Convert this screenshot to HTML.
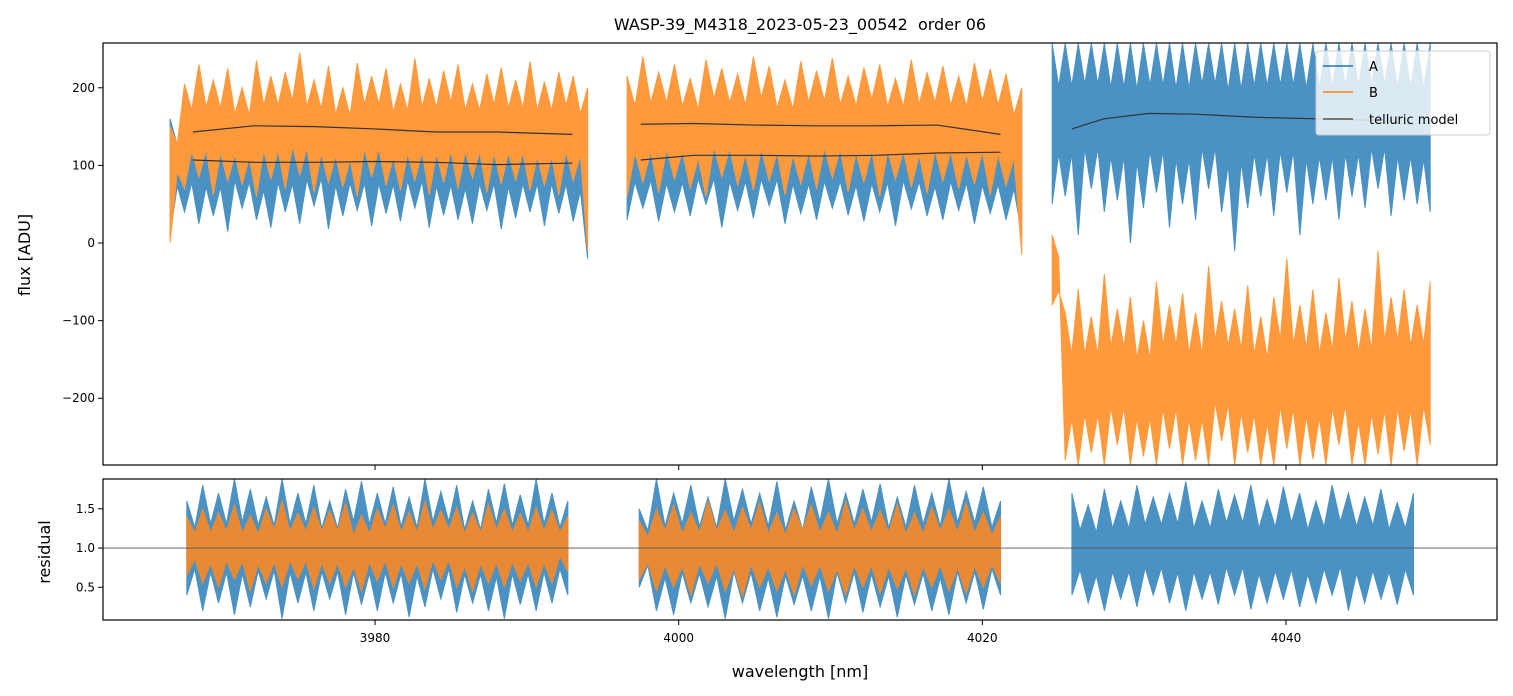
<!DOCTYPE html>
<html><head><meta charset="utf-8">
<style>
body{margin:0;background:#fff;font-family:"Liberation Sans","DejaVu Sans",sans-serif;}
svg text{font-family:"DejaVu Sans","Liberation Sans",sans-serif;}
</style></head>
<body>
<svg id="chart" width="1513" height="696" viewBox="0 0 1513 696" xmlns="http://www.w3.org/2000/svg" style="position:absolute;left:0;top:0">
<rect width="1513" height="696" fill="#fff"/>
<text x="800" y="30" font-size="16" text-anchor="middle" fill="#000">WASP-39_M4318_2023-05-23_00542&#160; order 06</text>
<g id="topg"></g>
<g id="botg"></g>
</svg>
<script>
// ---- data ----
const xTicks = [3980, 4000, 4020, 4040];
const yTopTicks = [200, 100, 0, -100, -200];
const yBotTicks = [1.5, 1.0, 0.5];
const topSegStart = [3966.5, 3996.6, 4024.6];
const topSegEnd = [3994.0, 4022.6, 4049.5];
const resSegStart = [3967.6, 3997.4, 4025.9];
const resSegEnd = [3992.7, 4021.2, 4048.4];
const aHi = [
 [160,175,182,168,190,172,165,185,178,170,188,175,182,168,176,190,172,180,170,186,174,182,165,178,188,170,176,184,172,168],
 [165,180,172,188,175,168,184,176,190,170,182,174,186,168,178,172,188,176,180,170,184,175,168,186,172,178],
 [257,257,257,257,257,257,257,257,257,257,257,257,257,257,257,257,257,257,257,257,257,257,257,257,257,257,257,257,257,257]
];
const aLo = [
 [10,40,25,35,15,45,30,20,40,25,48,18,35,42,22,38,28,45,20,36,30,25,42,18,32,40,22,38,28,-20],
 [30,45,28,40,35,50,20,42,32,48,25,38,30,45,36,28,40,22,44,35,30,42,25,38,30,10],
 [50,60,10,70,40,55,0,45,65,20,50,30,70,40,-10,45,60,35,65,10,50,55,30,60,45,70,35,55,50,40]
];
const bHi = [
 [150,205,230,210,225,200,235,215,220,245,210,228,200,232,215,225,205,238,212,222,230,205,218,226,210,234,208,220,215,200],
 [215,240,220,230,212,236,225,218,240,228,210,234,222,238,215,226,230,212,236,220,228,215,232,224,218,200],
 [-80,-90,-60,-95,-40,-85,-70,-100,-50,-80,-65,-90,-30,-75,-85,-55,-95,-70,-20,-80,-60,-90,-45,-75,-85,-10,-70,-60,-80,-50]
];
const bLo = [
 [0,70,85,62,80,75,60,82,70,88,65,78,72,60,85,74,68,80,62,78,70,84,65,76,80,68,74,62,80,-10],
 [60,78,65,82,70,60,85,74,68,80,62,76,70,84,66,78,60,82,72,64,80,70,76,62,74,-15],
 [10,-280,-286,-270,-286,-260,-286,-275,-286,-265,-286,-280,-286,-255,-286,-270,-286,-286,-265,-286,-278,-286,-260,-286,-286,-272,-286,-268,-286,-260]
];
const modelX = [
 [3968,3972,3976,3980,3984,3988,3993],
 [3997.5,4001,4005,4009,4013,4017,4021.2],
 [4025.9,4028,4031,4034,4038,4042,4046,4048.4]
];
const modelA = [
 [107,104,104,105,104,101,103],
 [107,113,113,112,113,116,117],
 [147,160,167,166,162,160,158,152]
];
const modelB = [
 [143,151,150,147,143,143,140],
 [153,154,152,151,151,152,140],
 [null,null,null,null,null,null,null,null]
];
const rAHi = [
 [1.6,1.8,1.7,1.88,1.75,1.65,1.88,1.7,1.8,1.6,1.75,1.85,1.7,1.78,1.65,1.88,1.72,1.8,1.6,1.75,1.82,1.68,1.88,1.7,1.6],
 [1.5,1.88,1.7,1.8,1.65,1.88,1.75,1.7,1.85,1.6,1.78,1.88,1.7,1.75,1.82,1.65,1.8,1.7,1.88,1.72,1.78,1.6],
 [1.7,1.55,1.75,1.6,1.8,1.65,1.7,1.85,1.6,1.75,1.68,1.8,1.62,1.78,1.7,1.6,1.8,1.7,1.65,1.75,1.58,1.7]
];
const rALo = [
 [0.4,0.2,0.3,0.15,0.25,0.35,0.1,0.3,0.2,0.35,0.15,0.28,0.2,0.3,0.12,0.25,0.35,0.18,0.3,0.2,0.1,0.28,0.2,0.3,0.4],
 [0.5,0.2,0.15,0.3,0.25,0.1,0.3,0.2,0.12,0.28,0.2,0.1,0.3,0.18,0.25,0.12,0.28,0.2,0.15,0.3,0.22,0.4],
 [0.4,0.3,0.2,0.35,0.25,0.4,0.3,0.2,0.35,0.28,0.4,0.22,0.3,0.35,0.25,0.3,0.4,0.2,0.3,0.35,0.28,0.4]
];
const rBHi = [
 [1.4,1.5,1.45,1.55,1.42,1.5,1.6,1.45,1.52,1.48,1.58,1.42,1.5,1.55,1.46,1.6,1.48,1.52,1.45,1.56,1.5,1.44,1.52,1.48,1.4],
 [1.35,1.5,1.55,1.45,1.6,1.48,1.52,1.58,1.45,1.5,1.55,1.46,1.6,1.5,1.48,1.56,1.45,1.52,1.5,1.58,1.46,1.4],
 []
];
const rBLo = [
 [0.65,0.55,0.5,0.6,0.45,0.55,0.5,0.6,0.48,0.55,0.5,0.45,0.58,0.5,0.55,0.48,0.6,0.5,0.45,0.55,0.5,0.58,0.5,0.55,0.7],
 [0.6,0.45,0.5,0.4,0.55,0.45,0.38,0.5,0.45,0.4,0.52,0.45,0.4,0.5,0.42,0.48,0.4,0.5,0.45,0.42,0.5,0.55],
 []
];

// ---- axes ----
const L=103,R=1497, T1=43,B1=465, T2=479,B2=620;
const xMin=3962.08,xMax=4053.9;
const X=v=>L+(v-xMin)/(xMax-xMin)*(R-L);
const Y1=v=>T1+(257.7-v)/(257.7+286)*(B1-T1);
const Y2=v=>T2+(1.88-v)/(1.88-0.083)*(B2-T2);
const NS="http://www.w3.org/2000/svg";
function mk(tag,attrs,parent){const e=document.createElementNS(NS,tag);for(const k in attrs)e.setAttribute(k,attrs[k]);parent.appendChild(e);return e;}
const gTopRoot=document.getElementById('topg'), gBotRoot=document.getElementById('botg');
const chartSvg=document.getElementById('chart');
const defs=mk('defs',{},chartSvg);
function clip(id,y0,y1){const d=mk('clipPath',{id:id},defs);mk('rect',{x:L,y:y0,width:R-L,height:y1-y0},d);}
clip('c1',T1,B1);clip('c2',T2,B2);
const gTop=mk('g',{'clip-path':'url(#c1)'},gTopRoot);
const gBot=mk('g',{'clip-path':'url(#c2)'},gBotRoot);
const NOTCH=0.28;
function band(g,s,e,hi,lo,Y,color,name){
  if(!hi.length)return;
  const n=hi.length;let pts=[];
  for(let i=0;i<n;i++){const x=X(s+(e-s)*i/(n-1));pts.push(x+','+Y(hi[i]));if(i<n-1){const xm=X(s+(e-s)*(i+0.5)/(n-1));const h=Math.min(hi[i],hi[i+1]),l=Math.max(lo[i],lo[i+1]);pts.push(xm+','+Y(h-(h-l)*NOTCH));}}
  for(let i=n-1;i>=0;i--){const x=X(s+(e-s)*i/(n-1));pts.push(x+','+Y(lo[i]));if(i>0){const xm=X(s+(e-s)*(i-0.5)/(n-1));const h=Math.min(hi[i],hi[i-1]),l=Math.max(lo[i],lo[i-1]);pts.push(xm+','+Y(l+(h-l)*NOTCH));}}
  const p=mk('polygon',{points:pts.join(' '),fill:color,stroke:color,'stroke-width':1},g);
  
  
}
function line(g,xs,ys,Y,name,w,col){
  const pts=[];xs.forEach((x,i)=>{if(ys[i]!==null)pts.push(X(x)+','+Y(ys[i]));});
  if(pts.length<2)return;
  const p=mk('polyline',{points:pts.join(' '),fill:'none',stroke:col,'stroke-width':w},g);
  
  
}
for(let s=0;s<3;s++){
  band(gTop,topSegStart[s],topSegEnd[s],aHi[s],aLo[s],Y1,'#4a91c4','flux-a-segment');
  band(gTop,topSegStart[s],topSegEnd[s],bHi[s],bLo[s],Y1,'#ff9a3c','flux-b-segment');
}
for(let s=0;s<3;s++){
  line(gTop,modelX[s],modelA[s],Y1,'telluric-model-a',1.2,'#333');
  line(gTop,modelX[s],modelB[s],Y1,'telluric-model-b',1.2,'#333');
}
for(let s=0;s<3;s++){
  band(gBot,resSegStart[s],resSegEnd[s],rAHi[s],rALo[s],Y2,'#4a91c4','residual-a-segment');
  band(gBot,resSegStart[s],resSegEnd[s],rBHi[s],rBLo[s],Y2,'#e88a35','residual-b-segment');
}
const ref=mk('line',{x1:L,x2:R,y1:Y2(1),y2:Y2(1),stroke:'#555','stroke-width':0.8},gBot);



[[T1,B1,gTopRoot],[T2,B2,gBotRoot]].forEach(([a,b,g])=>{
  const f=mk('rect',{x:L,y:a,width:R-L,height:b-a,fill:'none',stroke:'#000','stroke-width':1.2},g);
  
  
});
xTicks.forEach(v=>{
  mk('line',{x1:X(v),x2:X(v),y1:B1,y2:B1+5,stroke:'#000'},gTopRoot);
  mk('line',{x1:X(v),x2:X(v),y1:B2,y2:B2+5,stroke:'#000'},gBotRoot);
  const t=mk('text',{x:X(v),y:B2+22,'font-size':12,'text-anchor':'middle'},gBotRoot);
  t.textContent=v;
  
  
});
yTopTicks.forEach(v=>{
  mk('line',{x1:L-5,x2:L,y1:Y1(v),y2:Y1(v),stroke:'#000'},gTopRoot);
  const t=mk('text',{x:L-8,y:Y1(v)+4,'font-size':12,'text-anchor':'end'},gTopRoot);
  t.textContent=v<0?'\u2212'+(-v):v;
  
  
});
yBotTicks.forEach(v=>{
  mk('line',{x1:L-5,x2:L,y1:Y2(v),y2:Y2(v),stroke:'#000'},gBotRoot);
  const t=mk('text',{x:L-8,y:Y2(v)+4,'font-size':12,'text-anchor':'end'},gBotRoot);
  t.textContent=v.toFixed(1);
  
  
});
</script>
<svg style="position:absolute;left:0;top:0" width="1513" height="696">
<text x="800" y="677" font-size="16" text-anchor="middle">wavelength [nm]</text>
<text x="30" y="255" font-size="16" text-anchor="middle" transform="rotate(-90 30 255)">flux [ADU]</text>
<text x="50" y="552" font-size="16" text-anchor="middle" transform="rotate(-90 50 552)">residual</text>
<g>
<rect x="1316" y="51" width="174" height="84" rx="3" fill="#fff" fill-opacity="0.8" stroke="#ccc"/>
<line x1="1323" x2="1353" y1="66" y2="66" stroke="#1f77b4" stroke-width="1.5"/>
<text x="1369" y="71" font-size="13">A</text>
<line x1="1323" x2="1353" y1="92" y2="92" stroke="#ff7f0e" stroke-width="1.5"/>
<text x="1369" y="97" font-size="13">B</text>
<line x1="1323" x2="1353" y1="119" y2="119" stroke="#555" stroke-width="1.5"/>
<text x="1369" y="124" font-size="13">telluric model</text>
</g>
</svg>
</body></html>
